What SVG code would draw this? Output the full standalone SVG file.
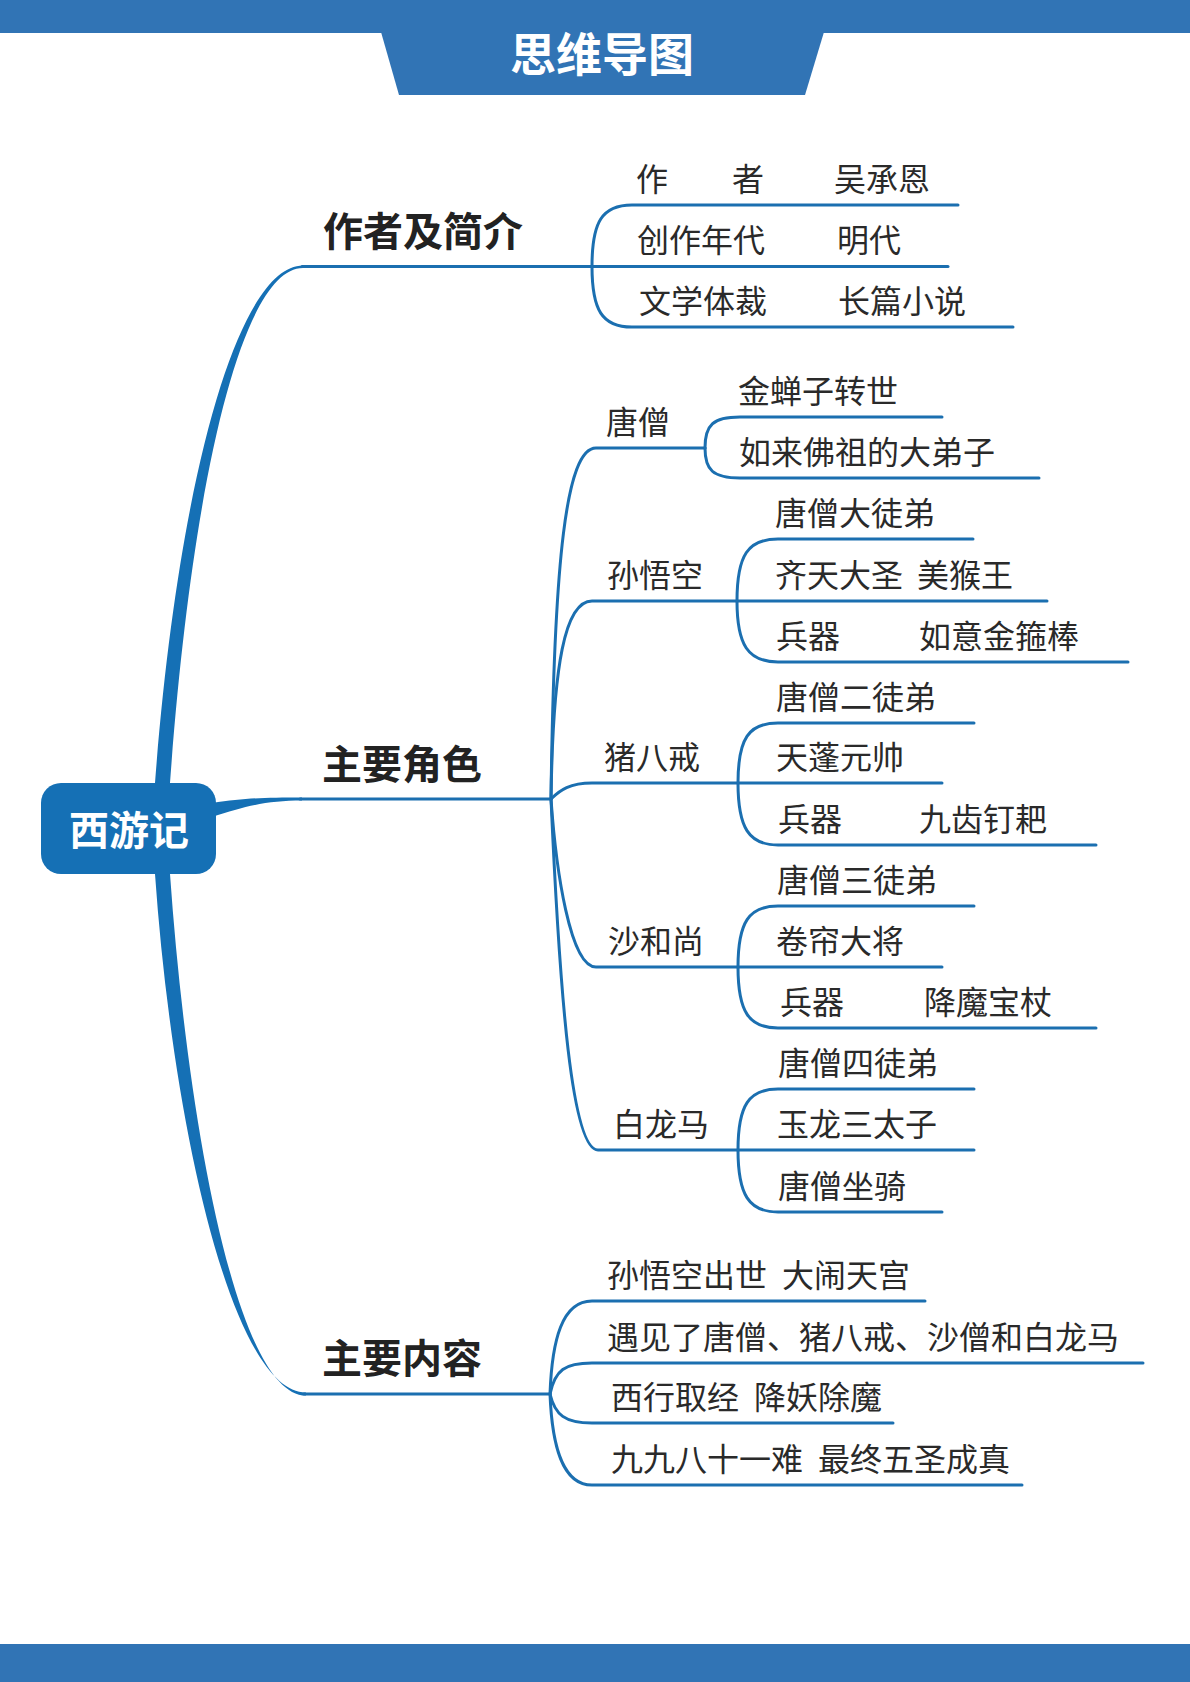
<svg xmlns="http://www.w3.org/2000/svg" width="1190" height="1682" viewBox="0 0 1190 1682">
<style>
.bar{fill:#3174b5}
.br{fill:#1570b5}
.ln{fill:none;stroke:#1b6fb0;stroke-width:3;stroke-linecap:round}
.t1{font-family:"Noto Sans CJK SC","Noto Sans",sans-serif;font-size:40px;font-weight:bold;fill:#222222}
.t2{font-family:"Noto Sans CJK SC","Noto Sans",sans-serif;font-size:32px;fill:#2a2a2a}
.tw{font-family:"Noto Sans CJK SC","Noto Sans",sans-serif;font-weight:bold;fill:#ffffff;text-anchor:middle}
</style>
<rect width="1190" height="1682" fill="#ffffff"/>
<g id="header">
<rect class="bar" x="0" y="0" width="1190" height="33"/>
<polygon class="bar" points="381,32 824,32 805,95 399,95"/>
<text class="tw" x="602" y="71" font-size="46">思维导图</text>
</g>
<rect id="footer" class="bar" x="0" y="1644" width="1190" height="38"/>

<g id="connectors">
<!-- thick main branches -->
<path class="br" d="M155 783 C178 480 238 265.5 303 265.5 L303 268 C242 268 192 480 170 783 Z"/>
<path class="br" d="M212 803 C245 798 265 797.5 302 797.5 L302 800.5 C268 800.5 245 806 212 817 Z"/>
<path class="br" d="M155 874 C173 1130 233 1392.5 306 1392.5 L306 1395.5 C238 1395.5 188 1130 170 874 Z"/>
<!-- 作者及简介 -->
<path class="ln" d="M302 266.5 L948 266.5"/>
<path class="ln" d="M592 266.5 C592 222 602 205 632 205 L958 205"/>
<path class="ln" d="M592 266.5 C592 310 602 327 632 327 L1013 327"/>
<!-- 主要角色 -->
<path class="ln" d="M300 799 L551 799"/>
<path class="ln" d="M551 799 C554 560 566 448 596 448 L705 448"/>
<path class="ln" d="M705 448 C705 425 713 417 740 417 L942 417"/>
<path class="ln" d="M705 448 C705 470 713 478 740 478 L1039 478"/>
<path class="ln" d="M551 799 C553 664 565 601 592 601 L1047 601"/>
<path class="ln" d="M737 601 C737 555 748 539 778 539 L973 539"/>
<path class="ln" d="M737 601 C737 645 748 662 778 662 L1128 662"/>
<path class="ln" d="M551 799 C560 790 570 783 592 783 L942 783"/>
<path class="ln" d="M738 783 C738 738 749 723 778 723 L974 723"/>
<path class="ln" d="M738 783 C738 828 749 845 778 845 L1096 845"/>
<path class="ln" d="M551 799 C556 870 570 967 596 967 L942 967"/>
<path class="ln" d="M738 967 C738 922 749 906 778 906 L974 906"/>
<path class="ln" d="M738 967 C738 1012 749 1028 778 1028 L1096 1028"/>
<path class="ln" d="M551 799 C560 1000 572 1150 598 1150 L974 1150"/>
<path class="ln" d="M738 1150 C738 1105 749 1089 778 1089 L974 1089"/>
<path class="ln" d="M738 1150 C738 1195 749 1212 778 1212 L942 1212"/>
<!-- 主要内容 -->
<path class="ln" d="M304 1394 L550 1394"/>
<path class="ln" d="M550 1394 C552 1340 562 1301 592 1301 L925 1301"/>
<path class="ln" d="M550 1394 C555 1370 565 1363 592 1363 L1143 1363"/>
<path class="ln" d="M550 1394 C555 1415 565 1423 592 1423 L893 1423"/>
<path class="ln" d="M550 1394 C552 1445 562 1485 592 1485 L1022 1485"/>
</g>

<g id="node-root">
<rect x="41" y="783" width="175" height="91" rx="20" fill="#1570b5"/>
<text class="tw" x="129" y="845" font-size="40">西游记</text>
</g>

<g id="node-author-intro"><text class="t1" x="323" y="246">作者及简介</text></g>
<g id="node-author"><text class="t2" x="636" y="191">作　　者 <tspan x="834">吴承恩</tspan></text></g>
<g id="node-era"><text class="t2" x="637" y="252">创作年代 <tspan x="837">明代</tspan></text></g>
<g id="node-genre"><text class="t2" x="639" y="313">文学体裁 <tspan x="838">长篇小说</tspan></text></g>

<g id="node-characters"><text class="t1" x="322" y="779">主要角色</text></g>

<g id="node-tangseng"><text class="t2" x="606" y="434">唐僧</text></g>
<g id="node-ts-1"><text class="t2" x="738" y="403">金蝉子转世</text></g>
<g id="node-ts-2"><text class="t2" x="739" y="464">如来佛祖的大弟子</text></g>

<g id="node-wukong"><text class="t2" x="607" y="587">孙悟空</text></g>
<g id="node-wk-1"><text class="t2" x="775" y="525">唐僧大徒弟</text></g>
<g id="node-wk-2"><text class="t2" x="775" y="587">齐天大圣 <tspan x="917">美猴王</tspan></text></g>
<g id="node-wk-3"><text class="t2" x="776" y="648">兵器 <tspan x="919">如意金箍棒</tspan></text></g>

<g id="node-bajie"><text class="t2" x="604" y="769">猪八戒</text></g>
<g id="node-bj-1"><text class="t2" x="776" y="709">唐僧二徒弟</text></g>
<g id="node-bj-2"><text class="t2" x="776" y="769">天蓬元帅</text></g>
<g id="node-bj-3"><text class="t2" x="778" y="831">兵器 <tspan x="919">九齿钉耙</tspan></text></g>

<g id="node-sha"><text class="t2" x="608" y="953">沙和尚</text></g>
<g id="node-sh-1"><text class="t2" x="777" y="892">唐僧三徒弟</text></g>
<g id="node-sh-2"><text class="t2" x="776" y="953">卷帘大将</text></g>
<g id="node-sh-3"><text class="t2" x="780" y="1014">兵器 <tspan x="924">降魔宝杖</tspan></text></g>

<g id="node-horse"><text class="t2" x="613" y="1136">白龙马</text></g>
<g id="node-hs-1"><text class="t2" x="778" y="1075">唐僧四徒弟</text></g>
<g id="node-hs-2"><text class="t2" x="777" y="1136">玉龙三太子</text></g>
<g id="node-hs-3"><text class="t2" x="778" y="1198">唐僧坐骑</text></g>

<g id="node-content"><text class="t1" x="322" y="1373">主要内容</text></g>
<g id="node-ct-1"><text class="t2" x="607" y="1287">孙悟空出世 <tspan x="782">大闹天宫</tspan></text></g>
<g id="node-ct-2"><text class="t2" x="607" y="1349">遇见了唐僧、猪八戒、沙僧和白龙马</text></g>
<g id="node-ct-3"><text class="t2" x="611" y="1409">西行取经 <tspan x="754">降妖除魔</tspan></text></g>
<g id="node-ct-4"><text class="t2" x="611" y="1471">九九八十一难 <tspan x="818">最终五圣成真</tspan></text></g>
</svg>
